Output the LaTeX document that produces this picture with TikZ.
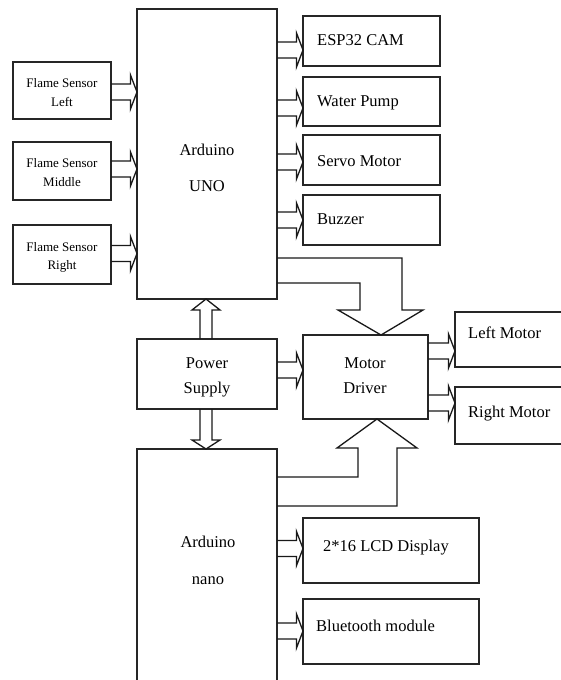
\documentclass[tikz,border=0pt]{standalone}
\usepackage{fontspec}
\setmainfont{Liberation Serif}
\usetikzlibrary{calc}
\tikzset{
  box/.style={draw=black!85, line width=1.2pt, anchor=north west, inner sep=0pt, outer sep=0pt},
  arr/.style={draw=black!90, line width=1.3pt, line join=miter},
  big/.style={font=\fontsize{16.5}{19}\selectfont, inner sep=0pt, anchor=base},
  bigl/.style={font=\fontsize{16.5}{19}\selectfont, inner sep=0pt, anchor=base west},
  small/.style={font=\fontsize{13}{15}\selectfont, inner sep=0pt, anchor=base},
}
% hollow arrow pointing right, from node #1 (east side) to node #2 (west side) at pixel height #3
\newcommand\harr[3]{%
  \draw[arr] ($(#1.east|-0,#3)+(0,-8)$) -- ($(#2.west|-0,#3)+(-6.5,-8)$) -- ++(0,-9)
    -- ($(#2.west|-0,#3)$) -- ($(#2.west|-0,#3)+(-6.5,17)$) -- ++(0,-9)
    -- ($(#1.east|-0,#3)+(0,8)$);}
\begin{document}
\begin{tikzpicture}[x=1pt,y=-1pt]
\useasboundingbox (0,0) rectangle (561,680);
\clip (0,0) rectangle (561,680);
\fill[white] (0,0) rectangle (561,680);
% boxes
\node[box, minimum width=98pt, minimum height=57pt] (fl) at (13,62) {};
\node[box, minimum width=98pt, minimum height=58pt] (fm) at (13,142) {};
\node[box, minimum width=98pt, minimum height=59pt] (fr) at (13,225) {};
\node[box, minimum width=140pt, minimum height=290pt] (uno) at (137,9) {};
\node[box, minimum width=137pt, minimum height=50pt] (esp) at (303,16) {};
\node[box, minimum width=137pt, minimum height=49pt] (wp) at (303,77) {};
\node[box, minimum width=137pt, minimum height=50pt] (sm) at (303,135) {};
\node[box, minimum width=137pt, minimum height=50pt] (bz) at (303,195) {};
\node[box, minimum width=140pt, minimum height=70pt] (ps) at (137,339) {};
\node[box, minimum width=125pt, minimum height=84pt] (md) at (303,335) {};
\node[box, minimum width=130pt, minimum height=55pt] (lm) at (455,312) {};
\node[box, minimum width=130pt, minimum height=57pt] (rm) at (455,387) {};
\node[box, minimum width=140pt, minimum height=260pt] (nano) at (137,449) {};
\node[box, minimum width=176pt, minimum height=65pt] (lcd) at (303,518) {};
\node[box, minimum width=176pt, minimum height=65pt] (bt) at (303,599) {};
% texts
\node[small] (t1) at (62,87) {Flame Sensor};
\node[small] (t2) at (62,106) {Left};
\node[small] (t3) at (62,167) {Flame Sensor};
\node[small] (t4) at (62,186) {Middle};
\node[small] (t5) at (62,251) {Flame Sensor};
\node[small] (t6) at (62,269) {Right};
\node[big] (t7) at (207,155) {Arduino};
\node[big] (t8) at (207,191) {UNO};
\node[big] (t9) at (207,368) {Power};
\node[big] (t10) at (207,393) {Supply};
\node[big] (t11) at (365,368) {Motor};
\node[big] (t12) at (365,393) {Driver};
\node[big] (t13) at (208,547) {Arduino};
\node[big] (t14) at (208,584) {nano};
\node[bigl] (t15) at (317,45) {ESP32 CAM};
\node[bigl] (t16) at (317,106) {Water Pump};
\node[bigl] (t17) at (317,166) {Servo Motor};
\node[bigl] (t18) at (317,224) {Buzzer};
\node[bigl] (t19) at (468,338) {Left Motor};
\node[bigl] (t20) at (468,417) {Right Motor};
\node[bigl] (t21) at (323,551) {2*16 LCD Display};
\node[bigl] (t22) at (316,631) {Bluetooth module};
% horizontal hollow arrows
\harr{fl}{uno}{92}
\harr{fm}{uno}{169}
\harr{fr}{uno}{253.5}
\harr{uno}{esp}{50}
\harr{uno}{wp}{108}
\harr{uno}{sm}{162}
\harr{uno}{bz}{220}
\harr{ps}{md}{370}
\harr{md}{lm}{351}
\harr{md}{rm}{403}
\harr{nano}{lcd}{548.5}
\harr{nano}{bt}{631}
% power supply -> UNO (up)
\draw[arr] (200,0 |- ps.north) -- (200,310) -- (192,310) -- (206,0 |- uno.south)
  -- (220,310) -- (212,310) -- (212,0 |- ps.north);
% power supply -> nano (down)
\draw[arr] (200,0 |- ps.south) -- (200,440) -- (192,440) -- (206,0 |- nano.north)
  -- (220,440) -- (212,440) -- (212,0 |- ps.south);
% UNO -> motor driver
\draw[arr] (uno.east |- 0,258) -- (402,258) -- (402,310) -- (423,310) -- (381,0 |- md.north)
  -- (338,310) -- (360,310) -- (360,283) -- (uno.east |- 0,283);
% nano -> motor driver
\draw[arr] (nano.east |- 0,477) -- (358,477) -- (358,448) -- (337,448) -- (377,0 |- md.south)
  -- (417,448) -- (397,448) -- (397,506) -- (nano.east |- 0,506);
\end{tikzpicture}
\end{document}
